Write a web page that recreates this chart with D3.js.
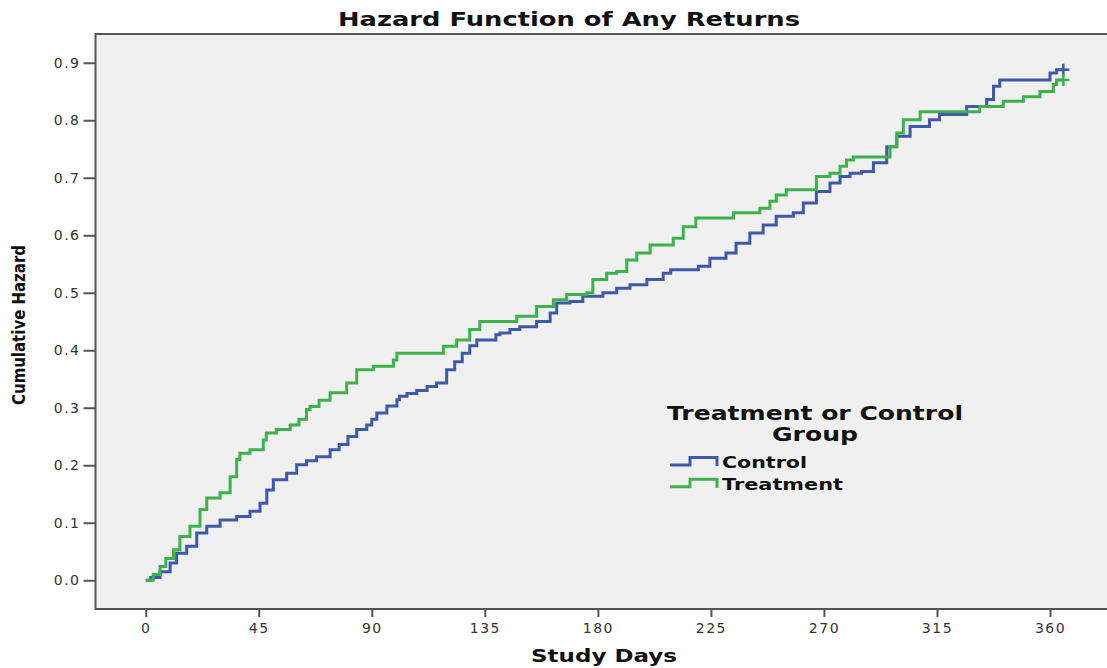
<!DOCTYPE html>
<html>
<head>
<meta charset="utf-8">
<script src="https://cdn.jsdelivr.net/npm/d3@7"></script>
<style>
  body { margin: 0; background: #fff; }
  text { font-family: "DejaVu Sans", sans-serif; }
</style>
</head>
<body>
<script>
var width = 1107, height = 668;

// Control group step points (study day, cumulative hazard)
var controlDays = [0, 2, 5.7, 9.7, 12.3, 16.3, 20.3, 24.3, 29.6, 36.2, 41.5, 45.5, 48.2, 50.8, 56.1, 60.1,
  64, 68, 73.4, 77, 80.5, 84, 88, 90, 92, 96, 100, 101, 104, 107.9, 112, 115.8, 119.8, 123, 126, 129, 131.8,
  139.4, 141, 145, 148.9, 155.6, 161, 163.6, 168.9, 174, 182, 187.5, 192.8, 199.5, 206, 209, 220, 224.6,
  231, 235, 240.5, 245.8, 251, 257.8, 261.8, 267, 272.4, 276.4, 280.4, 285, 289.7, 295, 299, 304.3, 312,
  316, 326.8, 334.8, 337.5, 340, 360, 362.6, 365.3];
var controlHazard = [0, 0.005, 0.015, 0.03, 0.047, 0.059, 0.082, 0.094, 0.105, 0.111, 0.12, 0.134, 0.157, 0.175, 0.186, 0.201,
  0.208, 0.215, 0.227, 0.236, 0.25, 0.262, 0.27, 0.28, 0.291, 0.303, 0.314, 0.32, 0.325, 0.33, 0.337, 0.343, 0.366, 0.38, 0.395, 0.408, 0.418,
  0.427, 0.43, 0.436, 0.441, 0.45, 0.465, 0.482, 0.485, 0.494, 0.5, 0.508, 0.514, 0.523, 0.534, 0.54, 0.546, 0.56,
  0.569, 0.586, 0.604, 0.618, 0.633, 0.639, 0.656, 0.676, 0.691, 0.702, 0.708, 0.711, 0.726, 0.754, 0.772, 0.789, 0.801,
  0.81, 0.824, 0.836, 0.859, 0.87, 0.882, 0.888, 0.888];

// Treatment group step points (study day, cumulative hazard)
var treatmentDays = [0, 3, 5.7, 8, 11, 13.6, 17.6, 21.6, 24.3, 29.6, 33.6, 36.2, 37.5, 41.5, 46.8, 48, 52, 57.5,
  61, 64, 65.4, 69, 73.4, 80, 84, 90.6, 98.6, 100, 118.5, 123.8, 129, 133, 147.7, 155.6, 162.3, 167.6, 175.6,
  178, 183.5, 187.5, 191.5, 195.5, 200.8, 210, 214, 219, 234, 244.5, 248.5, 251, 255, 267, 272.4,
  276.4, 279, 281.7, 296.3, 299, 301.6, 308.3, 332, 341.4, 349.4, 356, 361.3, 362.6, 365.3];
var treatmentHazard = [0, 0.01, 0.024, 0.038, 0.053, 0.076, 0.094, 0.123, 0.143, 0.152, 0.18, 0.21, 0.221, 0.227, 0.244, 0.256, 0.262, 0.27,
  0.28, 0.297, 0.302, 0.313, 0.326, 0.343, 0.366, 0.372, 0.383, 0.395, 0.407, 0.418, 0.436, 0.45, 0.459, 0.476, 0.488, 0.497, 0.5,
  0.523, 0.534, 0.537, 0.557, 0.569, 0.583, 0.595, 0.615, 0.63, 0.639, 0.647, 0.659, 0.67, 0.679, 0.702, 0.708,
  0.72, 0.731, 0.736, 0.754, 0.778, 0.801, 0.815, 0.824, 0.833, 0.841, 0.85, 0.862, 0.87, 0.87];

var xTicks = [0, 45, 90, 135, 180, 225, 270, 315, 360];
var yTicks = [0, 0.1, 0.2, 0.3, 0.4, 0.5, 0.6, 0.7, 0.8, 0.9];
var groupNames = ["Control", "Treatment"];
var groupColors = ["#3e58ac", "#3cb24a"];

var series = [
  { name: groupNames[0], color: groupColors[0], pts: d3.zip(controlDays, controlHazard) },
  { name: groupNames[1], color: groupColors[1], pts: d3.zip(treatmentDays, treatmentHazard) }
];

var x = d3.scaleLinear().domain([-20, 384]).range([95.5, 1110.3]);
var y = d3.scaleLinear().domain([-0.05, 0.95]).range([609, 34]);

var svg = d3.select("body").append("svg")
  .attr("width", width)
  .attr("height", height);

// plot area
svg.append("rect")
  .attr("x", x(-20)).attr("y", y(0.95))
  .attr("width", x(384) - x(-20)).attr("height", y(-0.05) - y(0.95))
  .attr("fill", "#f0f0f0")
  .attr("stroke", "#555")
  .attr("stroke-width", 2);

// axes
var yAxis = svg.append("g")
  .attr("transform", "translate(" + x(-20) + ",0)")
  .call(d3.axisLeft(y).tickValues(yTicks).tickFormat(d3.format(".1f")).tickSize(12).tickPadding(3));
var xAxis = svg.append("g")
  .attr("transform", "translate(0," + y(-0.05) + ")")
  .call(d3.axisBottom(x).tickValues(xTicks).tickSize(8).tickPadding(6));

[xAxis, yAxis].forEach(function(a) {
  a.select(".domain").remove();
  a.selectAll("line").attr("stroke", "#555").attr("stroke-width", 2);
  a.selectAll("text")
    .attr("fill", "#333")
    .style("font-size", "14px")
    .style("letter-spacing", "1.5px")
    .style("font-family", "DejaVu Sans, sans-serif");
});

// step lines
var line = d3.line()
  .x(function(d) { return x(d[0]); })
  .y(function(d) { return y(d[1]); })
  .curve(d3.curveStepAfter);

series.forEach(function(s) {
  svg.append("path")
    .datum(s.pts)
    .attr("fill", "none")
    .attr("stroke", s.color)
    .attr("stroke-width", 3)
    .attr("d", line);

  // censored mark at end
  var last = s.pts[s.pts.length - 1];
  var cx = x(last[0]), cy = y(last[1]);
  svg.append("path")
    .attr("d", "M" + (cx - 6) + "," + cy + "H" + (cx + 6) + "M" + cx + "," + (cy - 6) + "V" + (cy + 6))
    .attr("stroke", s.color)
    .attr("stroke-width", 2.5);
});

// titles
svg.append("text")
  .attr("x", 569).attr("y", 26)
  .attr("text-anchor", "middle")
  .attr("textLength", 462).attr("lengthAdjust", "spacingAndGlyphs")
  .style("font-size", "19px").style("font-weight", "bold")
  .attr("fill", "#111")
  .text("Hazard Function of Any Returns");

svg.append("text")
  .attr("x", 604).attr("y", 662)
  .attr("text-anchor", "middle")
  .attr("textLength", 146).attr("lengthAdjust", "spacingAndGlyphs")
  .style("font-size", "17px").style("font-weight", "bold")
  .attr("fill", "#111")
  .text("Study Days");

svg.append("text")
  .attr("transform", "translate(25,325) rotate(-90)")
  .attr("text-anchor", "middle")
  .attr("textLength", 160).attr("lengthAdjust", "spacingAndGlyphs")
  .style("font-size", "17px").style("font-weight", "bold")
  .attr("fill", "#111")
  .text("Cumulative Hazard");

// legend
var legend = svg.append("g");
legend.append("text")
  .attr("x", 815).attr("y", 420)
  .attr("text-anchor", "middle")
  .attr("textLength", 296).attr("lengthAdjust", "spacingAndGlyphs")
  .style("font-size", "19px").style("font-weight", "bold")
  .attr("fill", "#111")
  .text("Treatment or Control");
legend.append("text")
  .attr("x", 815).attr("y", 441)
  .attr("text-anchor", "middle")
  .attr("textLength", 86).attr("lengthAdjust", "spacingAndGlyphs")
  .style("font-size", "19px").style("font-weight", "bold")
  .attr("fill", "#111")
  .text("Group");

var itemWidths = [85, 121];
series.forEach(function(s, i) {
  var base = 465 + i * 21.7;
  legend.append("path")
    .attr("d", "M670," + base + "H690V" + (base - 7.5) + "H717V" + (base + 1))
    .attr("fill", "none")
    .attr("stroke", s.color)
    .attr("stroke-width", 3);
  legend.append("text")
    .attr("x", 722).attr("y", base + 3)
    .attr("textLength", itemWidths[i]).attr("lengthAdjust", "spacingAndGlyphs")
    .style("font-size", "16px").style("font-weight", "bold")
    .attr("fill", "#111")
    .text(s.name);
});
</script>
</body>
</html>
